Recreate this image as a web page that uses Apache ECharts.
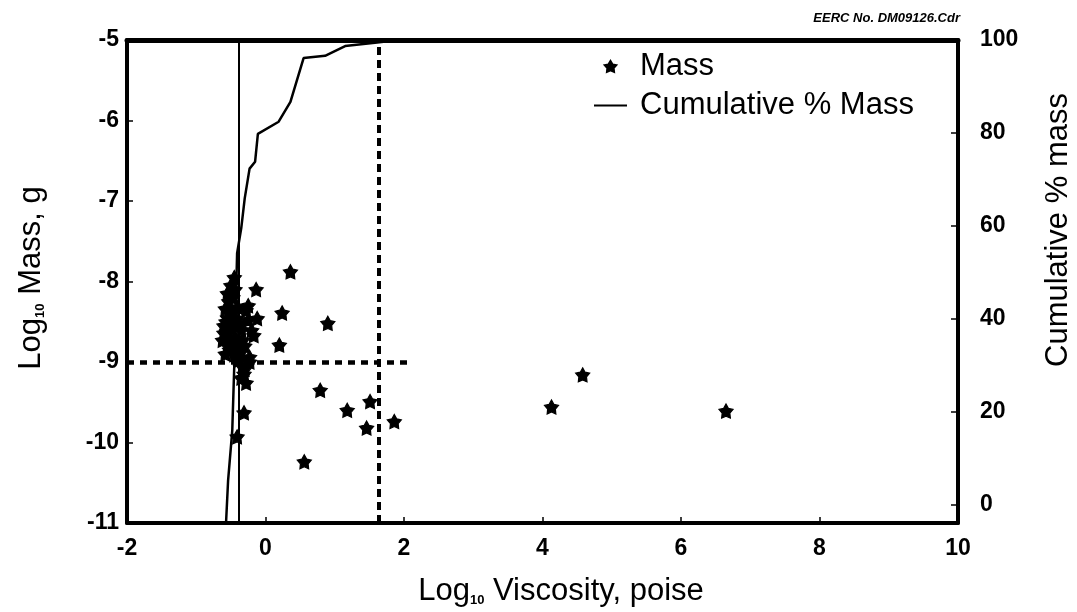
<!DOCTYPE html>
<html>
<head>
<meta charset="utf-8">
<script src="https://cdn.jsdelivr.net/npm/echarts@6/dist/echarts.min.js"></script>
<style>
  html, body { margin: 0; padding: 0; background: #fff; }
  #chart { width: 1077px; height: 612px; }
</style>
</head>
<body>
<div id="chart"></div>
<script>
// ---- Data ----
// Mass points: Log10 viscosity (poise) vs Log10 mass (g)
const massViscosity = [
  0.36, -0.135, 0.24, 0.90, -0.12, 0.20, 0.79, 1.51, 1.18, 1.86, 1.46, 0.56,
  -0.31, -0.41, -0.23, -0.31, -0.31, -0.25, -0.20, 4.58, 4.13, 6.65,
  -0.45, -0.50, -0.55, -0.53, -0.58, -0.40, -0.28, -0.25, -0.60, -0.17,
  -0.62, -0.53, -0.38, -0.58, -0.45, -0.23, -0.30, -0.35, -0.28, -0.48,
  -0.42, -0.35, -0.33, -0.50, -0.60, -0.44, -0.52, -0.40,
  -0.47, -0.55, -0.43, -0.37, -0.49, -0.56, -0.41, -0.46, -0.52, -0.36,
  -0.44, -0.30, -0.57, -0.39
];
const massLog = [
  -7.88, -8.10, -8.39, -8.52, -8.46, -8.79, -9.35, -9.49, -9.60, -9.74, -9.82, -10.24,
  -9.63, -9.93, -8.94, -9.07, -9.15, -8.30, -8.61, -9.16, -9.56, -9.61,
  -7.95, -8.05, -8.15, -8.25, -8.34, -8.32, -8.36, -8.48, -8.55, -8.67,
  -8.73, -8.81, -8.76, -8.90, -8.91, -9.00, -9.09, -9.20, -9.26, -8.60,
  -8.46, -8.60, -8.73, -8.38, -8.64, -8.70, -8.85, -8.95,
  -8.20, -8.45, -8.55, -8.52, -8.78, -8.62, -8.85, -8.82, -8.70, -8.88,
  -8.10, -8.80, -8.50, -8.98
];
// Cumulative % mass line
const cumViscosity = [-0.57, -0.54, -0.48, -0.45, -0.41, -0.35, -0.30, -0.23, -0.15, -0.11, 0.19, 0.36, 0.55, 0.86, 1.15, 1.58, 1.80];
const cumPercent   = [-4, 5.2, 15.9, 30.3, 54.1, 59.5, 65.9, 72.3, 73.8, 79.8, 82.4, 86.7, 96.1, 96.6, 98.7, 99.4, 99.8];
// Reference lines
const solidRefX = -0.38;
const dashedRefX = 1.64;
const dottedRefY = -9;
const dottedRefXEnd = 2.07;
// Ticks
const xTicks = { min: -2, max: 10, interval: 2 };
const yLeftTicks = { min: -11, max: -5, interval: 1 };
const yRightLabels = [0, 20, 40, 60, 80, 100];

// ---- Chart ----
const FONT = '"Liberation Sans", Arial, Helvetica, sans-serif';
const starPath = 'path://M10,0L13.23,5.55L19.51,6.91L15.23,11.7L15.88,18.09L10,15.5L4.12,18.09L4.77,11.7L0.49,6.91L6.77,5.55Z';

const massData = massViscosity.map((x, i) => [x, massLog[i]]);
const cumData = cumViscosity.map((x, i) => [x, cumPercent[i]]);

const chart = echarts.init(document.getElementById('chart'), null, { renderer: 'canvas' });

const tickLabel = { fontSize: 23, fontWeight: 'bold', color: '#000', fontFamily: FONT };
const frameLine = (w) => ({ show: true, onZero: false, lineStyle: { color: '#000', width: w } });

chart.setOption({
  animation: false,
  backgroundColor: '#fff',
  grid: { left: 127, right: 119, top: 40, bottom: 89 },
  legend: {
    orient: 'vertical',
    left: 589,
    top: 46,
    itemWidth: 33,
    itemHeight: 11,
    itemGap: 8,
    selectedMode: false,
    textStyle: { fontSize: 31, color: '#000', fontFamily: FONT, padding: [0, 0, 0, 8] },
    data: [
      { name: 'Mass', icon: starPath },
      { name: 'Cumulative % Mass', icon: 'path://M0,0H33V2H0Z' }
    ]
  },
  xAxis: [
    {
      type: 'value', min: xTicks.min, max: xTicks.max, interval: xTicks.interval, position: 'bottom',
      axisLine: frameLine(4),
      axisTick: { show: true, inside: true, length: 6, lineStyle: { color: '#000', width: 1.5 } },
      axisLabel: Object.assign({ margin: 14 }, tickLabel),
      splitLine: { show: false }
    },
    {
      type: 'value', min: xTicks.min, max: xTicks.max, position: 'top',
      axisLine: frameLine(5),
      axisTick: { show: false }, axisLabel: { show: false }, splitLine: { show: false }
    }
  ],
  yAxis: [
    {
      type: 'value', min: yLeftTicks.min, max: yLeftTicks.max, interval: yLeftTicks.interval, position: 'left',
      axisLine: frameLine(4),
      axisTick: { show: true, inside: true, length: 6, lineStyle: { color: '#000', width: 1.5 } },
      axisLabel: Object.assign({ margin: 8 }, tickLabel),
      splitLine: { show: false }
    },
    {
      type: 'value', min: -4, max: 100, position: 'right',
      axisLine: frameLine(4),
      axisTick: { show: true, inside: true, length: 7, customValues: yRightLabels, lineStyle: { color: '#000', width: 1.5 } },
      axisLabel: Object.assign({ margin: 22, customValues: yRightLabels }, tickLabel),
      splitLine: { show: false }
    }
  ],
  series: [
    {
      name: 'Cumulative % Mass',
      type: 'line',
      xAxisIndex: 0, yAxisIndex: 1,
      data: cumData,
      showSymbol: false,
      symbol: 'none',
      lineStyle: { color: '#000', width: 2.5 },
      itemStyle: { color: '#000' },
      z: 2
    },
    {
      name: 'Mass',
      type: 'scatter',
      xAxisIndex: 0, yAxisIndex: 0,
      data: massData,
      symbol: starPath,
      symbolSize: 14,
      itemStyle: { color: '#000', borderColor: '#000', borderWidth: 1.2, opacity: 1 },
      z: 3,
      markLine: {
        silent: true,
        symbol: ['none', 'none'],
        label: { show: false },
        animation: false,
        data: [
          { xAxis: solidRefX, lineStyle: { color: '#000', type: 'solid', width: 2 } },
          { xAxis: dashedRefX, lineStyle: { color: '#000', type: [8, 5], width: 4 } },
          [
            { coord: [xTicks.min, dottedRefY], lineStyle: { color: '#000', type: [7, 6], width: 4.5 } },
            { coord: [dottedRefXEnd, dottedRefY] }
          ]
        ]
      }
    }
  ],
  graphic: [
    {
      type: 'text', x: 960, y: 18,
      style: {
        text: 'EERC No. DM09126.Cdr', align: 'right', verticalAlign: 'middle',
        font: 'italic bold 13px ' + FONT, fill: '#000'
      }
    },
    {
      type: 'text', x: 561, y: 590,
      style: {
        text: '{a|Log}{s|10}{a| Viscosity, poise}', align: 'center', verticalAlign: 'middle',
        fill: '#000',
        rich: {
          a: { fontSize: 31, fontFamily: FONT, fill: '#000', lineHeight: 34, verticalAlign: 'bottom' },
          s: { fontSize: 13, fontFamily: FONT, fill: '#000', lineHeight: 34, verticalAlign: 'bottom', fontWeight: 'bold' }
        }
      }
    },
    {
      type: 'text', x: 30, y: 278, rotation: Math.PI / 2,
      style: {
        text: '{a|Log}{s|10}{a| Mass, g}', align: 'center', verticalAlign: 'middle',
        fill: '#000',
        rich: {
          a: { fontSize: 31, fontFamily: FONT, fill: '#000', lineHeight: 34, verticalAlign: 'bottom' },
          s: { fontSize: 13, fontFamily: FONT, fill: '#000', lineHeight: 34, verticalAlign: 'bottom', fontWeight: 'bold' }
        }
      }
    },
    {
      type: 'text', x: 1058, y: 230, rotation: Math.PI / 2,
      style: {
        text: 'Cumulative % mass', align: 'center', verticalAlign: 'middle',
        font: '31px ' + FONT, fill: '#000'
      }
    }
  ]
});
</script>
</body>
</html>
